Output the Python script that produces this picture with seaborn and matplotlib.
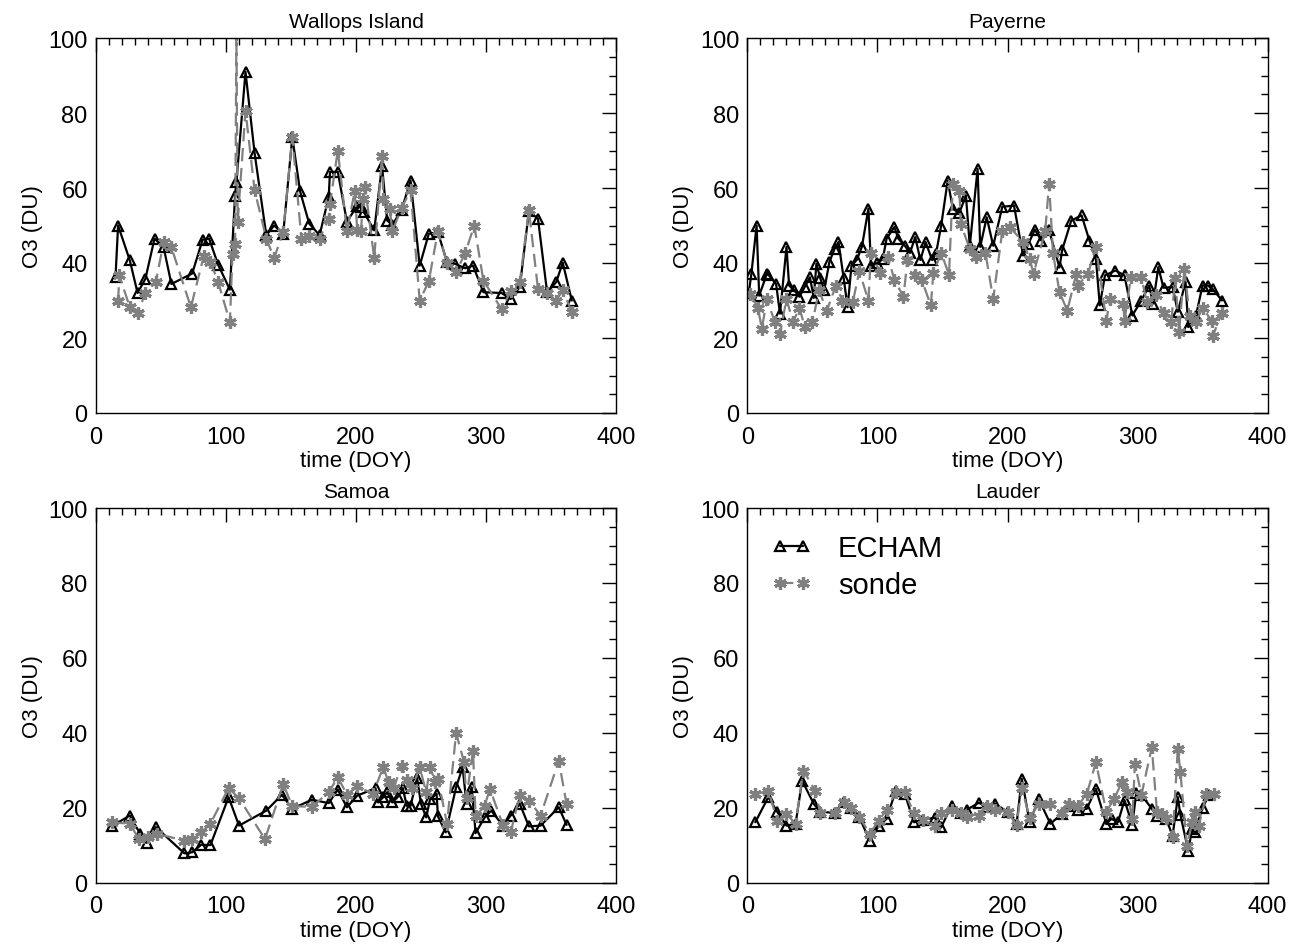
import numpy as np
import pandas as pd
import matplotlib
matplotlib.use('Agg')
import matplotlib.pyplot as plt
from matplotlib.ticker import MultipleLocator
import seaborn as sns

sns.set_style('white')
plt.rcParams['font.family'] = ['Liberation Sans', 'DejaVu Sans']
plt.rcParams['text.color'] = 'black'
plt.rcParams['axes.labelcolor'] = 'black'

# ---- Wallops Island
wallops_echam_doy = [15, 17, 26, 32, 38, 45, 52, 58, 74, 82, 87, 94, 103, 107, 108, 115, 122,
                     131, 137, 144, 151, 157, 164, 172, 179, 180, 186, 193, 201, 204, 206, 214,
                     220, 224, 228, 235, 242, 249, 256, 263, 270, 276, 284, 290, 298, 312, 319,
                     326, 333, 340, 347, 354, 359, 366]
wallops_echam_o3 = [36.3, 50, 40.7, 32, 35.8, 46.5, 44.2, 34.4, 37.2, 46.2, 46.5, 39.5, 32.9, 58,
                    61.5, 91, 69.3, 47.4, 50, 47.8, 73.6, 59.1, 50.5, 47.4, 57.6, 64.3, 64.3, 51,
                    55.3, 55, 53.6, 48.7, 66, 51.3, 50.2, 54.1, 62, 39.3, 47.8, 48.2, 40.2, 39.8,
                    38.6, 39.3, 32.2, 32, 30.4, 33.6, 53.8, 51.8, 32.2, 34.9, 40.1, 30]
wallops_sonde_doy = [17, 18, 26, 32, 38, 46, 52, 58, 73, 83, 88, 94, 103, 105, 107, 108, 109, 115,
                     122, 131, 137, 144, 151, 158, 164, 172, 179, 180, 186, 193, 199, 201, 204,
                     205, 207, 214, 220, 221, 226, 228, 235, 242, 249, 256, 263, 270, 277, 284,
                     291, 298, 312, 319, 326, 333, 340, 347, 354, 359, 366]
wallops_sonde_o3 = [30, 36.7, 28.2, 26.7, 32, 34.9, 45.5, 44.2, 28.2, 42, 40.3, 34.9, 24.2, 42.5,
                    45, 101, 51, 80.6, 59.4, 46.5, 41.3, 48.2, 73.6, 46.5, 47.2, 46.5, 51.8, 55.8,
                    70, 48.5, 59.1, 48.7, 48.5, 57.2, 60.3, 41.3, 68.5, 57.2, 54.3, 48.5, 54.6,
                    59.4, 30, 35.1, 48.5, 40.1, 37.5, 42.7, 50, 35.3, 27.7, 32.5, 34.9, 54.1, 33,
                    32, 30, 32.7, 27]

# ---- Payerne
payerne_echam_doy = [1, 3, 7, 9, 15, 16, 22, 25, 30, 32, 36, 40, 44, 48, 51, 53, 56, 59, 63, 67,
                     70, 74, 77, 80, 84, 88, 93, 95, 100, 104, 107, 113, 116, 121, 125, 129, 133,
                     137, 142, 145, 149, 154, 158, 163, 168, 171, 177, 179, 184, 189, 196, 205,
                     212, 216, 221, 226, 232, 240, 242, 249, 257, 263, 268, 271, 275, 283, 290,
                     296, 303, 309, 312, 316, 320, 327, 331, 337, 339, 345, 350, 354, 358, 365]
payerne_echam_o3 = [32, 37.2, 50, 31.3, 37.2, 36.9, 34.4, 26.5, 44.3, 34, 32.7, 31, 33.6, 36.2,
                    30.7, 39.8, 35.9, 32.7, 40.3, 43.8, 45.6, 35.9, 28.2, 39.3, 40.8, 44.3, 54.5,
                    39.3, 40, 41, 46.5, 49.6, 46.5, 44.6, 42.7, 46.9, 40.8, 45.6, 40.8, 42.5, 50,
                    62, 54.4, 53.4, 58, 44.6, 65.1, 44.3, 52.2, 44.6, 55, 55.3, 42, 45, 48.9, 46,
                    48.7, 38.8, 43.4, 51.3, 52.7, 46, 41.1, 28.7, 36.7, 38, 36.7, 26, 30, 34, 29.1,
                    38.9, 33.4, 33.6, 27, 34.9, 22.9, 26, 34, 34, 33, 30]
payerne_sonde_doy = [2, 8, 11, 15, 21, 25, 30, 35, 40, 44, 50, 55, 61, 68, 73, 81, 86, 93, 95, 102,
                     108, 113, 120, 123, 129, 134, 141, 143, 149, 155, 158, 163, 164, 171, 176, 183,
                     189, 196, 202, 212, 217, 220, 229, 232, 235, 240, 246, 253, 254, 262, 268, 276,
                     279, 289, 290, 295, 303, 307, 314, 320, 326, 329, 332, 336, 340, 345, 350, 357,
                     358, 365]
payerne_sonde_o3 = [31.8, 28.1, 22.5, 30.4, 24.2, 21.1, 30.4, 24.2, 28.1, 22.9, 24.2, 32.7, 27.3,
                    34, 30, 29.6, 37.8, 30, 42.7, 37.4, 41.7, 35.5, 31, 40.8, 36.9, 35.5, 28.7,
                    37.4, 42.7, 36.9, 61.2, 59.2, 50.5, 43.7, 41.7, 42.7, 30.4, 48.5, 49.5, 45.6,
                    41.1, 37.2, 48.5, 61.2, 42.7, 32.2, 27.3, 37.2, 34, 37.2, 44.3, 24.6, 30.4,
                    29.1, 24.6, 36.4, 36.4, 29.7, 31.4, 26.6, 24.4, 35.9, 21.5, 38.5, 26, 24.2,
                    28.1, 24.6, 20.6, 26.8]

# ---- Samoa
samoa_echam_doy = [12, 26, 34, 39, 46, 68, 74, 81, 88, 102, 110, 131, 143, 151, 166, 179, 186, 193,
                   201, 215, 217, 221, 224, 228, 232, 236, 239, 242, 247, 250, 254, 257, 262, 263,
                   269, 277, 282, 285, 289, 292, 299, 304, 313, 319, 326, 333, 342, 356, 362]
samoa_echam_o3 = [15.1, 18, 13.1, 10.7, 14.9, 7.9, 8.2, 10.2, 10.1, 22.9, 15.3, 19.3, 23.5, 19.8,
                  22.2, 21.3, 24.9, 20.2, 23.3, 25.3, 21.5, 22.9, 24.2, 21.5, 22.9, 25.3, 20.6,
                  20.6, 28, 21.1, 17.5, 22.4, 23.8, 17.8, 13.5, 25.5, 30.9, 21.1, 25.5, 13.3,
                  17.5, 19.3, 15.3, 18, 21.1, 15.1, 15.3, 20.2, 15.5]
samoa_sonde_doy = [12, 26, 33, 40, 47, 68, 74, 81, 88, 102, 110, 130, 144, 151, 166, 179, 186, 193,
                   201, 213, 221, 225, 229, 235, 239, 243, 249, 254, 257, 261, 263, 270, 277, 283,
                   285, 290, 292, 299, 303, 313, 319, 326, 333, 342, 356, 362]
samoa_sonde_o3 = [16.2, 15.8, 11.7, 12.4, 13.1, 11.3, 11.7, 13.5, 15.8, 25.3, 22.6, 11.7, 26.4,
                  20.5, 20.3, 24.2, 28.2, 23.6, 25.8, 23.8, 30.9, 26.9, 25.3, 31.3, 27.6, 25.3,
                  30.9, 24.2, 30.9, 26.9, 27.8, 15.8, 40, 32.4, 22.8, 35.3, 17.8, 20.6, 25.1,
                  15.5, 13.5, 23.6, 22, 18, 32.6, 21]

# ---- Lauder
lauder_echam_doy = [6, 16, 23, 30, 37, 42, 51, 56, 67, 74, 80, 86, 94, 101, 107, 114, 121, 128,
                    135, 144, 149, 157, 164, 169, 178, 184, 190, 200, 207, 211, 217, 224, 233, 242,
                    247, 254, 261, 268, 276, 280, 285, 290, 296, 299, 303, 311, 315, 322, 327, 331,
                    333, 339, 342, 344, 350, 355]
lauder_echam_o3 = [16.2, 22.9, 18.9, 15.3, 15.8, 27.3, 21.1, 19, 18.7, 21.7, 19.9, 17.6, 11.3,
                   15.3, 17.1, 24.6, 23.8, 16.2, 16.9, 17.4, 14.9, 20.6, 18.7, 19.6, 21.4, 20.3,
                   21.2, 19, 15.8, 27.8, 16.2, 22.4, 15.8, 18.5, 20.6, 19.6, 19.8, 25.1, 15.8,
                   17.1, 16.2, 22.1, 15.5, 24, 23.5, 19.8, 18, 17.1, 12.6, 22.9, 18.2, 8.6, 14.4,
                   13.5, 20, 23.5]
lauder_sonde_doy = [6, 16, 23, 30, 37, 43, 52, 56, 67, 74, 80, 86, 94, 101, 107, 114, 121, 128, 135,
                    144, 149, 157, 164, 169, 178, 184, 190, 200, 207, 211, 217, 224, 233, 242, 247,
                    254, 261, 268, 276, 282, 288, 292, 296, 298, 303, 311, 315, 319, 322, 327, 331,
                    333, 338, 342, 344, 347, 353, 359]
lauder_sonde_o3 = [23.7, 24.6, 16.6, 18.4, 15.8, 30, 24.6, 18.7, 18.7, 21.7, 19.9, 17.6, 13.2, 16.6,
                   19.6, 24.2, 24.2, 18.7, 16.9, 15.1, 18.7, 19.6, 18.7, 17.5, 17.9, 20.6, 19.4,
                   19, 15.5, 25.4, 17.3, 21.1, 21.1, 18.7, 21.1, 20.6, 23.7, 32.2, 19, 22.4, 26.9,
                   24.4, 17.1, 31.8, 23.5, 36.2, 18.9, 18.5, 17.3, 12.3, 35.8, 29.6, 9.8, 16.2, 19,
                   15.1, 23.7, 23.7]

stations = ['Wallops Island', 'Payerne', 'Samoa', 'Lauder']
echam_doy = [wallops_echam_doy, payerne_echam_doy, samoa_echam_doy, lauder_echam_doy]
echam_o3 = [wallops_echam_o3, payerne_echam_o3, samoa_echam_o3, lauder_echam_o3]
sonde_doy = [wallops_sonde_doy, payerne_sonde_doy, samoa_sonde_doy, lauder_sonde_doy]
sonde_o3 = [wallops_sonde_o3, payerne_sonde_o3, samoa_sonde_o3, lauder_sonde_o3]

fig = plt.figure(figsize=(13, 9.45), dpi=100)
W, H = 1300, 945
boxes = [(96, 39), (747.5, 39), (96, 509), (747.5, 509)]  # left, top in pixels
aw, ah = 520, 375

grey = '#808080'
for i, name in enumerate(stations):
    left, top = boxes[i]
    ax = fig.add_axes([left / W, 1 - (top + ah) / H, aw / W, ah / H])
    sns.lineplot(x=echam_doy[i], y=echam_o3[i], ax=ax, color='black', lw=1.6,
                 marker='^', markersize=7.5, markerfacecolor='none', markeredgecolor='black',
                 markeredgewidth=1.6, estimator=None, sort=False)
    sns.lineplot(x=sonde_doy[i], y=sonde_o3[i], ax=ax, color=grey, lw=1.6,
                 linestyle=(0, (6, 3)), marker=(6, 2, 0), markersize=9,
                 markeredgecolor=grey, markeredgewidth=2.3, estimator=None, sort=False)
    ax.set_xlim(0, 400)
    ax.set_ylim(0, 100)
    ax.xaxis.set_major_locator(MultipleLocator(100))
    ax.xaxis.set_minor_locator(MultipleLocator(10))
    ax.yaxis.set_major_locator(MultipleLocator(20))
    ax.yaxis.set_minor_locator(MultipleLocator(5))
    ax.tick_params(which='both', direction='in', top=True, right=True, width=1,
                   colors='black', labelcolor='black')
    ax.tick_params(which='major', length=10, labelsize=17)
    ax.tick_params(which='minor', length=5)
    ax.tick_params(axis='x', which='major', pad=9)
    ax.tick_params(axis='y', which='major', pad=6)
    for s in ax.spines.values():
        s.set_linewidth(1)
        s.set_color('black')
    ax.set_xlabel('time (DOY)', fontsize=16, labelpad=2, color='black')
    ax.set_ylabel('O3 (DU)', fontsize=16, labelpad=4, color='black')
    ax.set_title(name, fontsize=15, pad=8, color='black')
    if ax.get_legend() is not None:
        ax.get_legend().remove()
    if name == 'Lauder':
        ax.legend(handles=ax.lines[:2], labels=['ECHAM', 'sonde'], loc='upper left',
                  bbox_to_anchor=(0.045, 0.93), frameon=False, fontsize=21,
                  numpoints=2, handlelength=1.4, handletextpad=0.9, labelspacing=0.3,
                  borderpad=0, borderaxespad=0)

fig.savefig('out.png', dpi=100)
